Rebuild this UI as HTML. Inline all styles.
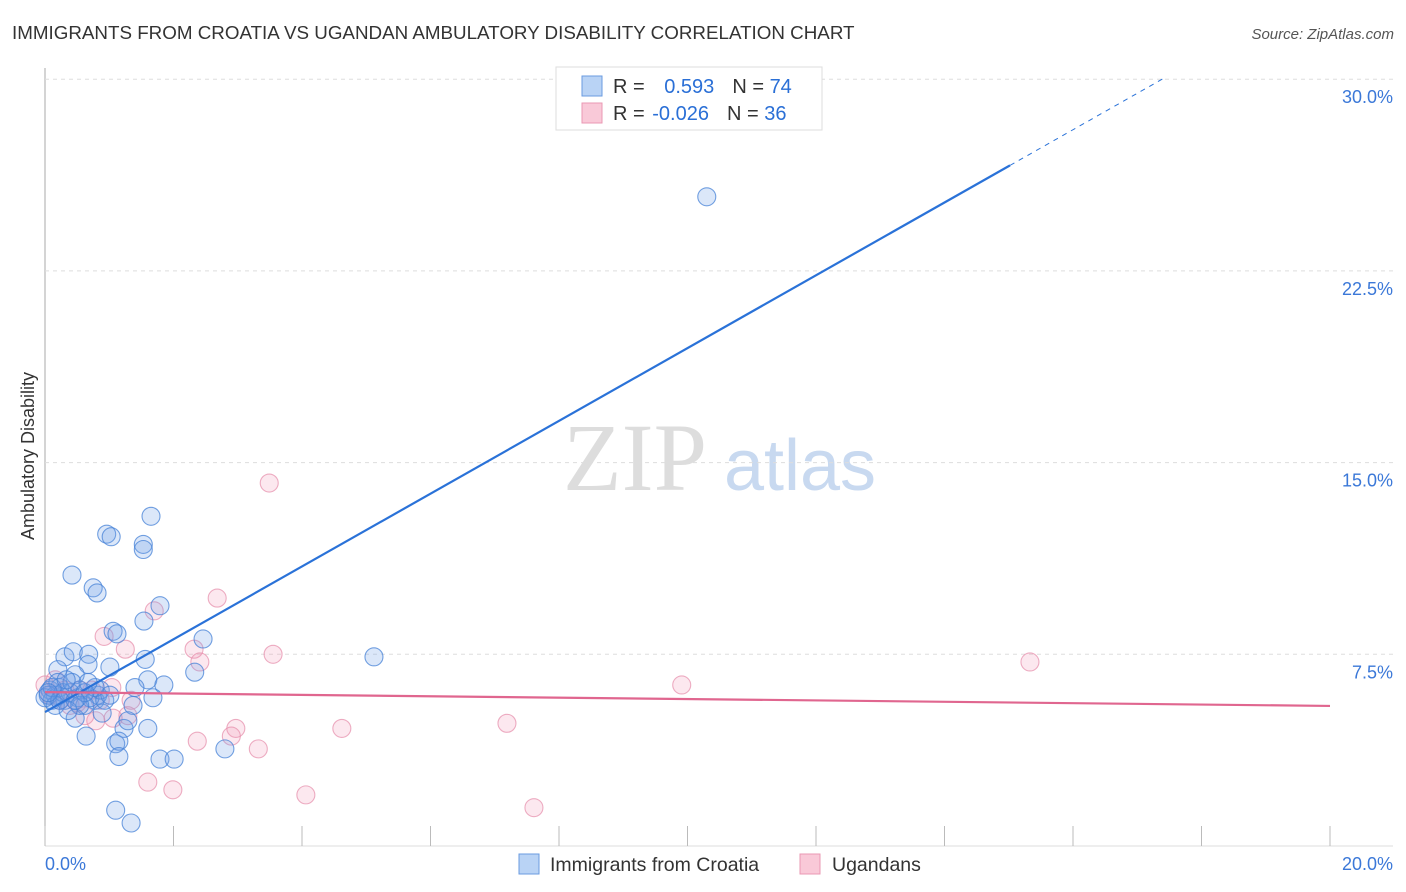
<!DOCTYPE html>
<html><head><meta charset="utf-8"><style>
body{margin:0;background:#fff;font-family:"Liberation Sans",sans-serif}
svg{display:block}
</style></head><body>
<svg id="chart" width="1406" height="892">
<text x="12" y="39" font-size="18.8" fill="#333">IMMIGRANTS FROM CROATIA VS UGANDAN AMBULATORY DISABILITY CORRELATION CHART</text>
<text x="1394" y="39" font-size="15" fill="#555" text-anchor="end" font-style="italic">Source: ZipAtlas.com</text>
<text transform="translate(34,456) rotate(-90)" font-size="18" fill="#333" text-anchor="middle">Ambulatory Disability</text>
<g><text x="635" y="490" font-size="96" fill="#ddd" text-anchor="middle" font-family="Liberation Serif,serif">ZIP</text><text x="800" y="490" font-size="72" fill="#c8d9f0" text-anchor="middle">atlas</text></g>
<g id="grid"></g><g id="pts"></g><g id="lines"></g>
<g>
<rect x="556" y="67" width="266" height="63" fill="#fff" stroke="#ddd"/>
<rect x="582" y="76" width="20" height="20" fill="#b9d3f5" stroke="#6a9be0"/>
<rect x="582" y="103" width="20" height="20" fill="#f9c9d8" stroke="#ea98b3"/>
<text x="613" y="93" font-size="20" fill="#333">R = <tspan fill="#2a6fd6" dx="14">0.593</tspan><tspan dx="18" fill="#333">N = </tspan><tspan fill="#2a6fd6">74</tspan></text>
<text x="613" y="120" font-size="20" fill="#333">R = <tspan fill="#2a6fd6" dx="2">-0.026</tspan><tspan dx="18" fill="#333">N = </tspan><tspan fill="#2a6fd6">36</tspan></text>
</g>
<g>
<rect x="519" y="854" width="20" height="20" fill="#b9d3f5" stroke="#6a9be0"/>
<text x="550" y="871" font-size="19.5" fill="#333">Immigrants from Croatia</text>
<rect x="800" y="854" width="20" height="20" fill="#f9c9d8" stroke="#ea98b3"/>
<text x="832" y="871" font-size="19.5" fill="#333">Ugandans</text>
</g>
</svg>
<script>
const xTicks=[0,2,4,6,8,10,12,14,16,18,20];
const yTicks=[7.5,15,22.5,30];
const yTickLabels=["7.5%","15.0%","22.5%","30.0%"];
const blueX=[10.3,1.65,0.96,1.03,1.53,1.53,0.42,0.75,0.81,1.79,1.54,1.06,1.12,2.46,5.12,0.31,0.44,0.68,1.56,1.01,0.67,2.33,1.6,1.85,1.4,0.2,0.47,0.54,0.82,1.68,0.78,0.62,1.37,0.89,0.47,1.6,1.23,1.29,0.64,1.1,1.15,1.15,2.8,1.79,2.01,1.1,1.34,0.08,0.16,0.23,0.31,0.11,0.39,0.51,0.2,0.05,0.7,0.28,0.42,0.86,0.16,0.54,0.36,0.78,0.62,0,0.11,0.23,0.47,0.93,0.67,0.33,1.01,0.05];
const blueY=[25.4,12.9,12.2,12.1,11.8,11.6,10.6,10.1,9.9,9.4,8.8,8.4,8.3,8.1,7.4,7.4,7.6,7.5,7.3,7.0,7.1,6.8,6.5,6.3,6.2,6.9,6.7,6.1,5.9,5.8,5.7,5.5,5.5,5.2,5.0,4.6,4.6,4.9,4.3,4.0,4.1,3.5,3.8,3.4,3.4,1.4,0.9,6.1,5.9,6.2,5.7,5.7,6.0,5.8,6.4,5.9,5.8,6.0,6.4,6.1,5.5,5.5,5.3,6.2,6.0,5.8,6.2,5.7,5.7,5.7,6.4,6.5,5.9,6.0];
const pinkX=[3.49,2.68,1.7,0.92,1.25,2.32,3.55,2.41,15.33,9.91,1.04,1.34,0.73,1.29,1.06,0.79,0.62,7.19,4.62,2.97,2.9,2.37,3.32,1.6,1.99,4.06,7.61,0,0.08,0.23,0.39,0.54,0.16,0.86,0.31,0.5];
const pinkY=[14.2,9.7,9.2,8.2,7.7,7.7,7.5,7.2,7.2,6.3,6.2,5.7,6.1,5.1,5.0,4.9,5.1,4.8,4.6,4.6,4.3,4.1,3.8,2.5,2.2,2.0,1.5,6.3,5.9,5.7,5.5,6.1,6.5,5.7,6.1,5.6];
const blueTrend=[5.24,1.424];
const pinkTrend=[6.02,-0.027];
const X=v=>45+v*64.25, Y=v=>846-v*25.56;
const NS="http://www.w3.org/2000/svg";
function mk(tag,attrs,parent){const e=document.createElementNS(NS,tag);for(const k in attrs)e.setAttribute(k,attrs[k]);parent.appendChild(e);return e;}
const grid=document.getElementById('grid');
mk('line',{x1:45,y1:68,x2:45,y2:846,stroke:'#aaa'},grid);
mk('line',{x1:45,y1:846,x2:1393,y2:846,stroke:'#ddd'},grid);
yTicks.forEach((t,i)=>{
 const l=mk('line',{x1:45,y1:Y(t),x2:1393,y2:Y(t),stroke:'#ddd','stroke-dasharray':'4,4'},grid);
 
 
 const tx=mk('text',{x:1393,y:Y(t)+24,'font-size':18,fill:'#3b78d8','text-anchor':'end'},grid);
 tx.textContent=yTickLabels[i];
 
 
});
xTicks.forEach(t=>{
 const l=mk('line',{x1:X(t),y1:826,x2:X(t),y2:846,stroke:'#bbb'},grid);
 
 
});
const x0=mk('text',{x:45,y:870,'font-size':18,fill:'#3b78d8'},grid);x0.textContent="0.0%";


const x1=mk('text',{x:1393,y:870,'font-size':18,fill:'#3b78d8','text-anchor':'end'},grid);x1.textContent="20.0%";


const pts=document.getElementById('pts');
pinkX.forEach((v,i)=>{
 const c=mk('circle',{cx:X(v),cy:Y(pinkY[i]),r:9,fill:'rgba(240,150,180,0.22)',stroke:'rgba(230,140,170,0.7)','stroke-width':1.1},pts);
 
 
});
blueX.forEach((v,i)=>{
 const c=mk('circle',{cx:X(v),cy:Y(blueY[i]),r:9,fill:'rgba(110,160,230,0.25)',stroke:'rgba(70,130,215,0.75)','stroke-width':1.1},pts);
 
 
});
const lines=document.getElementById('lines');
const bl=mk('line',{x1:X(0),y1:Y(blueTrend[0]),x2:X(15.02),y2:Y(blueTrend[0]+blueTrend[1]*15.02),stroke:'#2a72d8','stroke-width':2.2},lines);


const bd=mk('line',{x1:X(15.02),y1:Y(blueTrend[0]+blueTrend[1]*15.02),x2:X(17.45),y2:Y(blueTrend[0]+blueTrend[1]*17.45),stroke:'#2a72d8','stroke-width':1,'stroke-dasharray':'5,5'},lines);


const pl=mk('line',{x1:X(0),y1:Y(pinkTrend[0]),x2:X(20),y2:Y(pinkTrend[0]+pinkTrend[1]*20),stroke:'#e0668f','stroke-width':2.2},lines);


</script>
</body></html>
